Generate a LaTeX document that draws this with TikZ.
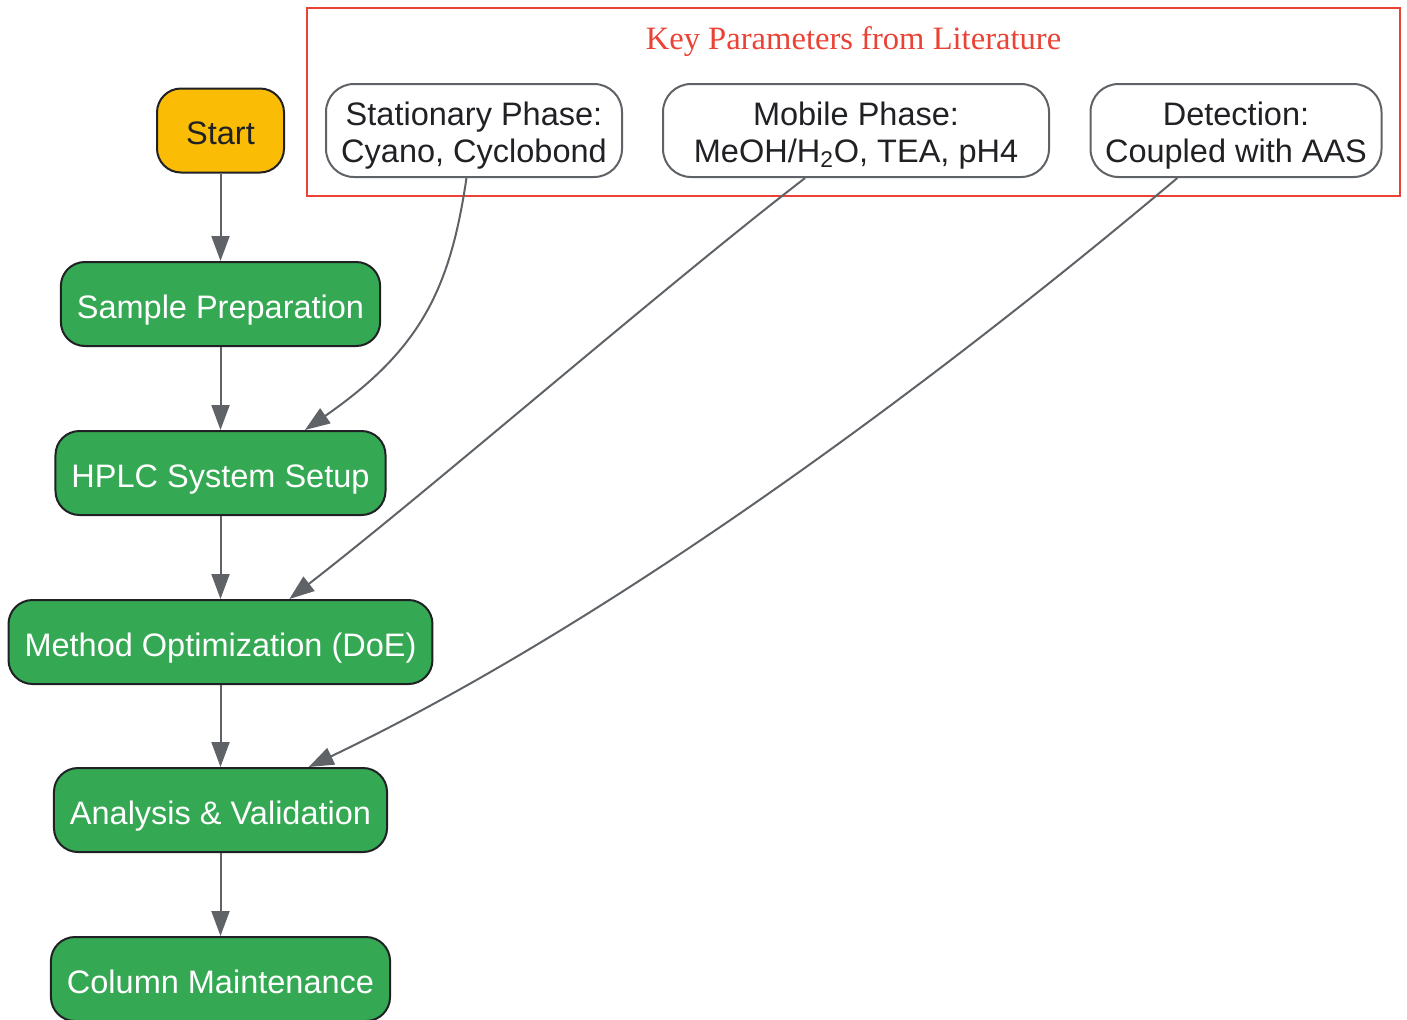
\documentclass[tikz,border=0pt]{standalone}
\usepackage{fontspec}
\setmainfont{Liberation Sans}
\newfontfamily\titlefont{Liberation Serif}
\usepackage{tikz}
\usetikzlibrary{arrows.meta}

\definecolor{stepgreen}{HTML}{34A853}
\definecolor{startamber}{HTML}{FBBC05}
\definecolor{keyred}{HTML}{EA4335}
\definecolor{edgegray}{HTML}{5F6368}
\definecolor{inkdark}{HTML}{202124}

\tikzset{
  stepbox/.style={draw=inkdark, line width=1pt, fill=stepgreen, text=white,
    rounded corners=12pt, minimum height=42pt, inner xsep=8pt,
    text height=14pt, text depth=0pt,
    font=\fontsize{16.25}{18.5}\selectfont},
  startbox/.style={stepbox, fill=startamber, text=inkdark, minimum width=63.5pt},
  parambox/.style={draw=edgegray, line width=1pt, fill=white, text=inkdark,
    rounded corners=14pt, minimum height=46.5pt, inner xsep=4pt, align=center,
    text height=34pt, text depth=2.5pt,
    font=\fontsize{16.25}{18.5}\selectfont},
  flow/.style={draw=edgegray, line width=1pt, -{Triangle[length=12.5pt,width=9pt]}}
}

\begin{document}
\begin{tikzpicture}[x=0.5pt, y=-0.5pt]

    \useasboundingbox (0,0) rectangle (1407,1019);

    % Main workflow
    \node[startbox] (start) at (220.5,130.5) {Start};
    \node[stepbox] (sample) at (220.5,304) {Sample Preparation};
    \node[stepbox] (hplc) at (220.5,473) {HPLC System Setup};
    \node[stepbox] (method) at (220.5,642) {Method Optimization (DoE)};
    \node[stepbox] (analysis) at (220.5,810) {Analysis \& Validation};
    \node[stepbox] (column) at (220.5,979) {Column Maintenance};

    % Key parameters cluster
    \draw[keyred, line width=1pt] (307,8) rectangle (1400,196);
    \node[text=keyred, font=\titlefont\fontsize{16.3}{18}\selectfont] (keytitle) at (853.5,42) {Key Parameters from Literature};
    \node[parambox, minimum width=148pt] (stat) at (474,130.5) {Stationary Phase:\\Cyano, Cyclobond};
    \node[parambox, minimum width=193pt] (mobile) at (856,130.5) {Mobile Phase:\\MeOH/H\textsubscript{2}O, TEA, pH4};
    \node[parambox, minimum width=145.5pt] (detect) at (1236,130.5) {Detection:\\Coupled with AAS};

    % Workflow arrows
    \foreach \a/\b in {start/sample, sample/hplc, hplc/method, method/analysis, analysis/column}
      \draw[flow] (\a) -- (\b);

    % Parameter arrows
    \draw[flow] (stat.261.5) .. controls (450,290) and (420,350) .. (hplc.27);
    \draw[flow] (mobile.223.5) .. controls (660,290) and (430,490) .. (method.32);
    \draw[flow] (detect.219) .. controls (1080,260) and (690,585) .. (analysis.26);

\end{tikzpicture}
\end{document}
